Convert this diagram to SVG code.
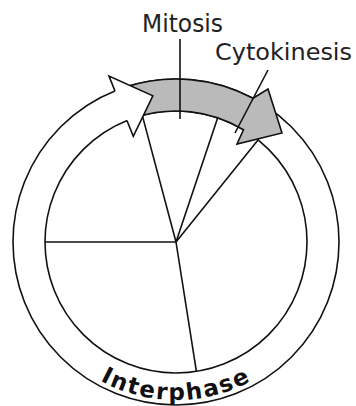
<svg xmlns="http://www.w3.org/2000/svg" width="356" height="406" viewBox="0 0 356 406">
<style>
.ln{stroke:#111;stroke-width:1.6;fill:none;stroke-linejoin:miter}
.lbl{font-family:"DejaVu Sans","Verdana",sans-serif;fill:#222}
</style>
<defs>
<path id="arcPath" d="M 18 242 A 158 158 0 0 0 334 242"/>
</defs>
<rect width="356" height="406" fill="#fff"/>
<g id="ring">
<circle cx="176" cy="242" r="163" fill="#fff" stroke="#111" stroke-width="1.6"/>
<circle cx="176" cy="242" r="131" fill="#fff" stroke="#111" stroke-width="1.6"/>
</g>
<g id="connectors">
<line class="ln" x1="176" y1="242" x2="45" y2="242"/>
<line class="ln" x1="176" y1="242" x2="196.4" y2="371.4"/>
<line class="ln" x1="176" y1="242" x2="142.3" y2="115.4"/>
<line class="ln" x1="176" y1="242" x2="217.7" y2="117.8"/>
<line class="ln" x1="176" y1="242" x2="258" y2="140"/>
</g>
<g id="mitosis-arrow">
<path d="M 125.63 86.97 A 163 163 0 0 1 253 98.3 L 268 89 L 282 133 L 237 144 L 243.47 129.71 A 131 131 0 0 0 135.52 117.41 Z" fill="#bababa" stroke="#111" stroke-width="1.6" stroke-linejoin="miter"/>
</g>
<g id="interphase-arrowhead">
<polygon points="114.94,90.87 108.95,76.03 152.85,95.82 133.3,136.3 126.93,120.54" fill="#fff" stroke="none"/>
<polyline class="ln" points="114.94,90.87 108.95,76.03 152.85,95.82 133.3,136.3 126.93,120.54"/>
</g>
<g id="leaders">
<line class="ln" x1="180" y1="39" x2="180" y2="119"/>
<line class="ln" x1="268" y1="70" x2="235" y2="133"/>
</g>
<g id="label-mitosis">
<text class="lbl" x="142" y="31.5" font-size="24" textLength="81" lengthAdjust="spacingAndGlyphs">Mitosis</text>
</g>
<g id="label-cytokinesis">
<text class="lbl" x="215" y="60" font-size="23" textLength="137" lengthAdjust="spacingAndGlyphs">Cytokinesis</text>
</g>
<g id="label-interphase">
<text font-family="DejaVu Sans, sans-serif" font-weight="bold" font-size="23" fill="#111" text-anchor="middle" letter-spacing="1.8"><textPath href="#arcPath" startOffset="50%">Interphase</textPath></text>
</g>
</svg>
